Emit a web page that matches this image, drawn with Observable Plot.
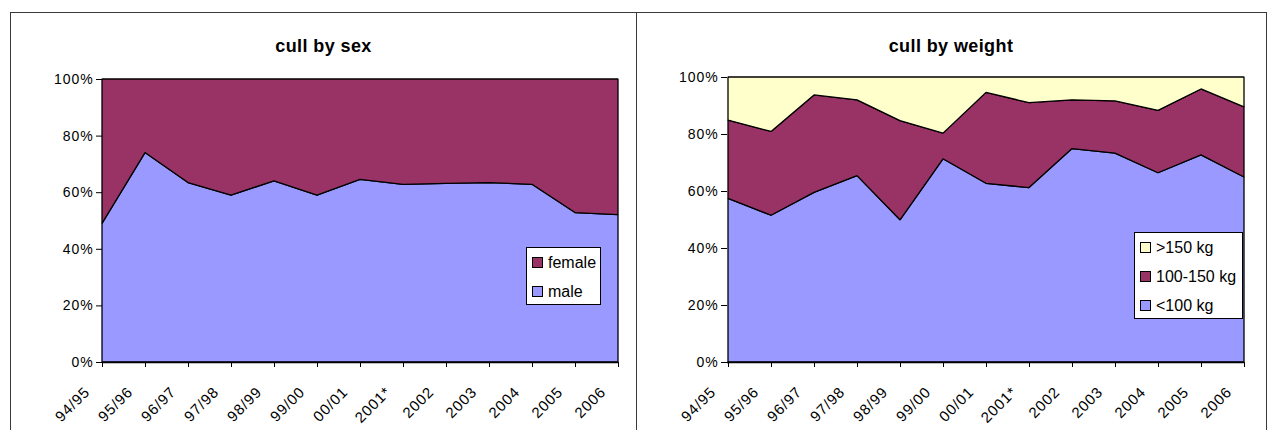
<!DOCTYPE html>
<html><head><meta charset="utf-8">
<script src="https://cdn.jsdelivr.net/npm/d3@7"></script>
<script src="https://cdn.jsdelivr.net/npm/@observablehq/plot@0.6"></script>
<style>
body{margin:0;background:#fff;font-family:"Liberation Sans",Arial,sans-serif;color:#000;}
#wrap{position:relative;width:1267px;height:430px;overflow:hidden;background:#fff;}
.panel{position:absolute;top:12px;height:430px;box-sizing:border-box;border-top:1px solid #3a3a3a;border-right:1px solid #3a3a3a;}
#p1{left:10px;width:627px;border-left:1px solid #3a3a3a;}
#p2{left:636px;width:631px;}
.title{position:absolute;top:23px;left:0;right:0;text-align:center;font-weight:bold;font-size:18px;letter-spacing:0.4px;}
.chart{position:absolute;top:60px;}
.legend{position:absolute;background:#fff;border:1px solid #000;box-sizing:border-box;font-size:16px;letter-spacing:0px;}
.legend .item{position:absolute;left:5px;height:12px;line-height:12px;white-space:nowrap;}
.legend .sw{display:inline-block;width:9px;height:9px;border:1px solid #000;vertical-align:top;margin-top:0px;margin-right:5px;}
</style></head>
<body>
<div id="wrap">
  <div class="panel" id="p1"><div class="title">cull by sex</div></div>
  <div class="panel" id="p2"><div class="title">cull by weight</div></div>
  <div class="chart" id="c1" style="left:11px"></div>
  <div class="chart" id="c2" style="left:637px"></div>
</div>
<script>
const seasons = ["94/95","95/96","96/97","97/98","98/99","99/00","00/01","2001*","2002","2003","2004","2005","2006"];

// cull by sex (% of cull)
const sexSeries = ["male","female"];
const male   = [49.0,74.0,63.4,59.0,64.0,59.0,64.5,62.8,63.1,63.4,62.8,52.8,52.1];
const female = [51.0,26.0,36.6,41.0,36.0,41.0,35.5,37.2,36.9,36.6,37.2,47.2,47.9];

// cull by weight (% of cull)
const weightSeries = ["<100 kg","100-150 kg",">150 kg"];
const under100 = [57.4,51.5,59.5,65.4,49.9,71.3,62.7,61.2,74.9,73.3,66.4,72.7,64.9];
const from100to150 = [27.5,29.4,34.2,26.6,34.8,9.0,31.9,29.8,17.1,18.3,21.9,23.1,24.6];
const over150 = [15.1,19.1,6.3,8.0,15.3,19.7,5.4,9.0,8.0,8.4,11.7,4.2,10.5];

const yTicks = [0,20,40,60,80,100];
const colSex = ["#9999FF","#993366"];
const colWeight = ["#9999FF","#993366","#FFFFCC"];

function rows(series, arrays){
  const out = [];
  series.forEach((s,k)=>arrays[k].forEach((v,i)=>out.push({season:seasons[i],series:s,value:v})));
  return out;
}

function chart(data, series, colors, w, ml, mr, mt){
  return Plot.plot({
    width:w, height:370,
    marginLeft:ml, marginRight:mr, marginTop:mt, marginBottom:68,
    style:{fontFamily:"'Liberation Sans',Arial,sans-serif",fontSize:"14px",color:"#000",background:"transparent",overflow:"visible"},
    x:{type:"point",domain:seasons,padding:0,tickRotate:-45,tickSize:5,tickPadding:3,label:null},
    y:{domain:[0,100],ticks:yTicks,tickFormat:d=>d+"%",tickSize:6,tickPadding:3,label:null},
    color:{domain:series,range:colors},
    marks:[
      Plot.areaY(data,{x:"season",y:"value",fill:"series",z:"series",order:series,stroke:"#000",strokeWidth:1.3,strokeLinejoin:"miter"}),
      Plot.ruleY([0],{stroke:"#000",strokeWidth:1.3})
    ]
  });
}

const c1 = chart(rows(sexSeries,[male,female]), sexSeries, colSex, 624, 91, 17, 19);
const c2 = chart(rows(weightSeries,[under100,from100to150,over150]), weightSeries, colWeight, 628, 90, 21, 17);
document.getElementById("c1").appendChild(c1);
document.getElementById("c2").appendChild(c2);
d3.selectAll(".chart svg text").style("letter-spacing","0.9px");
d3.selectAll('.chart svg g[aria-label="x-axis tick label"]')
  .style("font-size","15px")
  .attr("transform", function(){ return (this.getAttribute("transform")||"") + " translate(-15,19)"; });

function legend(parent, left, top, w, h, items, gap){
  const lg = document.createElement("div");
  lg.className="legend";
  Object.assign(lg.style,{left:left+"px",top:top+"px",width:w+"px",height:h+"px"});
  items.forEach(([name,color],i)=>{
    const it=document.createElement("div");
    it.className="item";
    it.style.top=(9+i*gap)+"px";
    const sw=document.createElement("span");sw.className="sw";sw.style.background=color;
    it.appendChild(sw);it.appendChild(document.createTextNode(name));
    lg.appendChild(it);
  });
  parent.appendChild(lg);
}
const wrap=document.getElementById("wrap");
legend(wrap,526,247,75,58,[["female",colSex[1]],["male",colSex[0]]],29);
legend(wrap,1134,232,109,87,[[weightSeries[2],colWeight[2]],[weightSeries[1],colWeight[1]],[weightSeries[0],colWeight[0]]],29);
</script>
</body></html>
